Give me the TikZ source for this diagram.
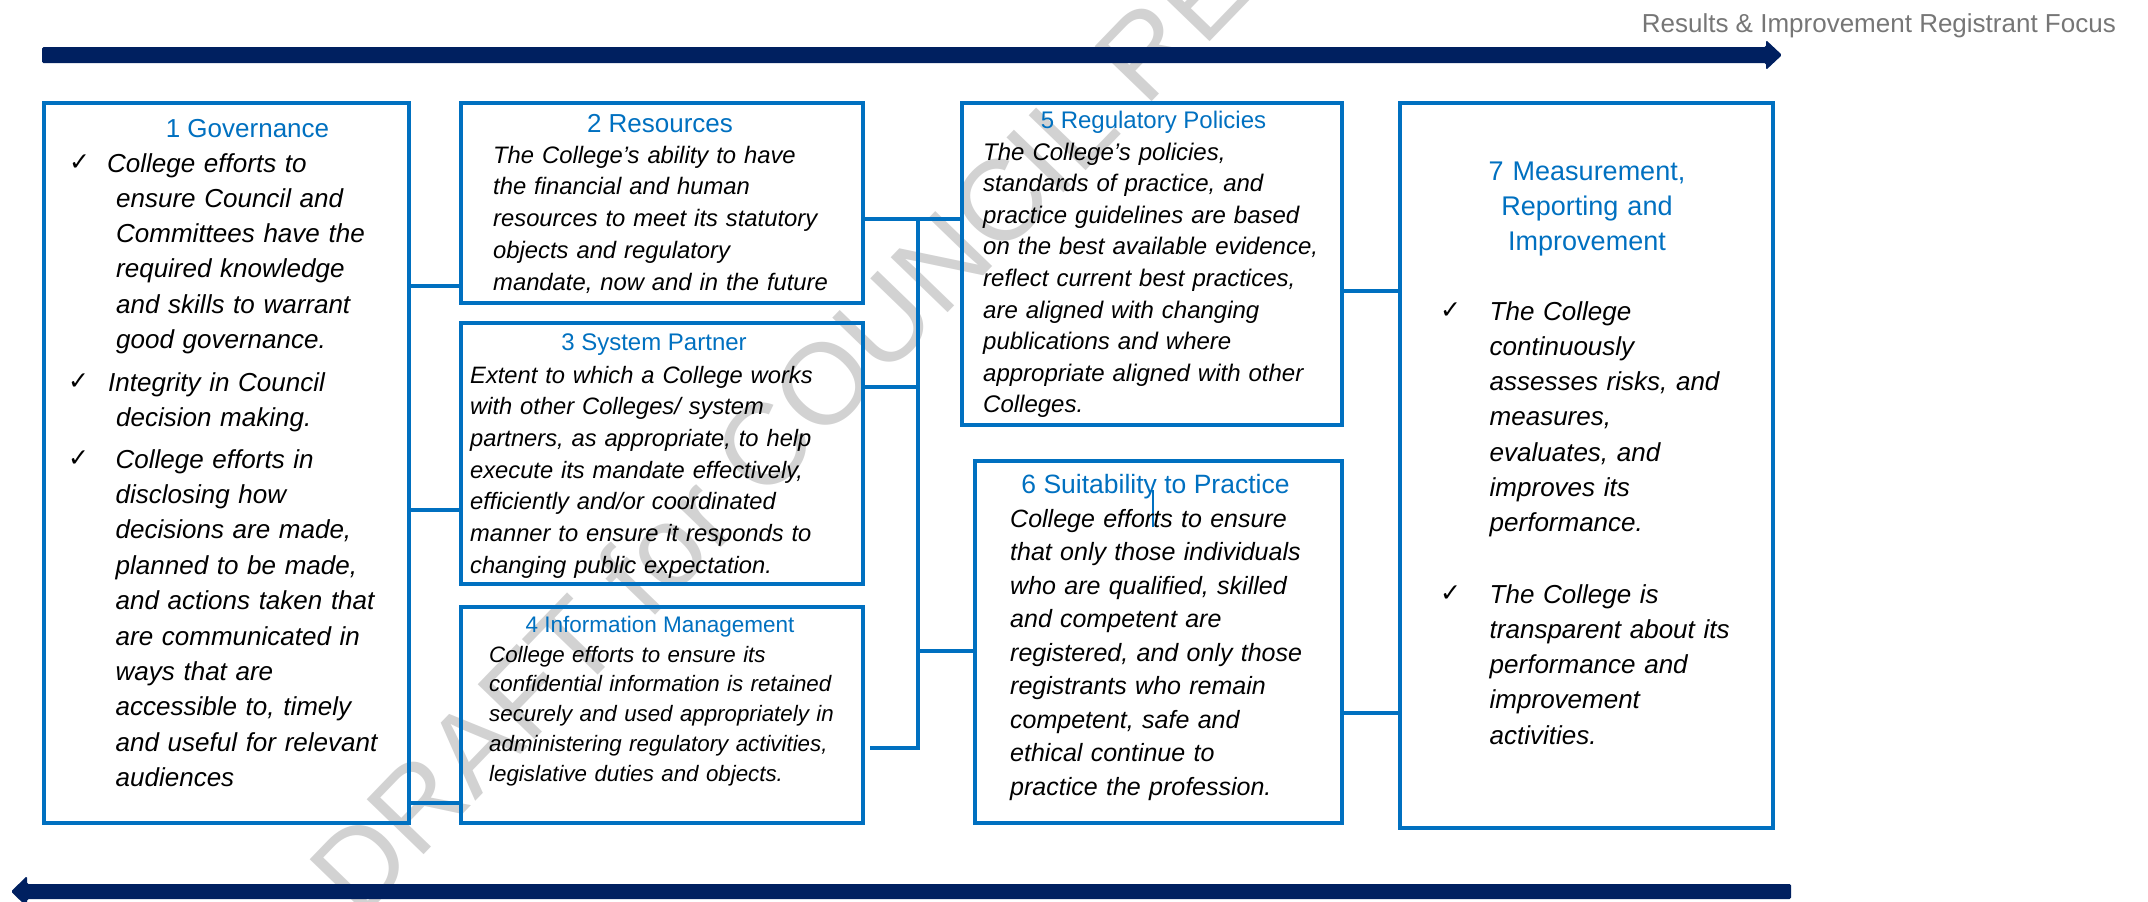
\documentclass[tikz,border=0pt]{standalone}
\usepackage{fontspec}
\setmainfont{Liberation Sans}
\newfontfamily\symfont{DejaVu Sans}
\definecolor{cblue}{HTML}{0070C0}
\definecolor{navy}{HTML}{002060}
\definecolor{wmgray}{RGB}{210,210,210}
\definecolor{labgray}{HTML}{767676}

\tikzset{
  box/.style={draw=cblue, line width=4pt, inner sep=0pt},
  conn/.style={draw=cblue, line width=4pt},
  ttl/.style={text=cblue, inner sep=0pt, anchor=base},
  body/.style={inner sep=0pt, anchor=base west, align=left},
  chk/.style={inner sep=0pt, anchor=base west, font=\symfont\fontsize{25}{25}\selectfont},
  bar/.style={fill=navy, rounded corners=1.5pt},
}

\begin{document}
\begin{tikzpicture}[x=1pt, y=-1pt]
\useasboundingbox (0,0) rectangle (2148,902);

% watermark
\node[rotate=46, text=wmgray, inner sep=0pt,
      font=\fontsize{115}{115}\selectfont] (wm) at (881,323) {DRAFT for COUNCIL REVIEW};

% header label
\node[anchor=base east, inner sep=0pt, text=labgray,
      font=\fontsize{26}{30}\selectfont] (lab) at (2116,32.5)
  {Results \& Improvement Registrant Focus};

% direction bars
\fill[bar] (42,47) -- (1766,47) -- (1766,40) -- (1782,55) -- (1766,70)
           -- (1766,63) -- (42,63) -- cycle;
\fill[bar] (1791,884) -- (27,884) -- (27,876) -- (11,891.5) -- (27,907)
           -- (27,899) -- (1791,899) -- cycle;

% frames
\node[box, minimum width=365pt, minimum height=720pt] (b1) at (226.5,463) {};
\node[box, minimum width=402pt, minimum height=200pt] (b2) at (662,203) {};
\node[box, minimum width=402pt, minimum height=261pt] (b3) at (662,453.5) {};
\node[box, minimum width=402pt, minimum height=216pt] (b4) at (662,715) {};
\node[box, minimum width=380pt, minimum height=322pt] (b5) at (1152,264) {};
\node[box, minimum width=367pt, minimum height=362pt] (b6) at (1158.5,642) {};
\node[box, minimum width=373pt, minimum height=725pt] (b7) at (1586.5,465.5) {};

% junction points of the collecting line
\coordinate (jt) at (918,219);
\coordinate (jb) at (918,748);

% connectors
\draw[conn] (b1.east |- 0,286) -- (b2.west |- 0,286);
\draw[conn] (b1.east |- 0,510) -- (b3.west |- 0,510);
\draw[conn] (b1.east |- 0,803) -- (b4.west |- 0,803);
\draw[conn] (b2.east |- jt) -- (jt);
\draw[conn] ([xshift=5pt]b4.east |- jb) -- (jb) -- (jt) -- (b5.west |- jt);
\draw[conn] (b3.east |- 0,387) -- (jt |- 0,387);
\draw[conn] (jt |- 0,651) -- (b6.west |- 0,651);
\draw[conn] (b5.east |- 0,291) -- (b7.west |- 0,291);
\draw[conn] (b6.east |- 0,713) -- (b7.west |- 0,713);

% 1 Governance
\node[ttl, font=\fontsize{26}{30}\selectfont] (t1) at (247.5,137) {1 Governance};
\node[chk] (c11) at (69,170) {✓};
\node[body, text width=285pt, font=\fontsize{26}{35.3}\selectfont\itshape] (p11) at (116,172)
  {\hspace*{-9pt}College efforts to\\ ensure Council and\\ Committees have the\\
   required knowledge\\ and skills to warrant\\ good governance.};
\node[chk] (c12) at (68,389) {✓};
\node[body, text width=285pt, font=\fontsize{26}{35.3}\selectfont\itshape] (p12) at (116,391)
  {\hspace*{-8pt}Integrity in Council\\ decision making.};
\node[chk] (c13) at (68,466) {✓};
\node[body, text width=285pt, font=\fontsize{26}{35.4}\selectfont\itshape] (p13) at (115.5,468)
  {College efforts in\\ disclosing how\\ decisions are made,\\ planned to be made,\\
   and actions taken that\\ are communicated in\\ ways that are\\
   accessible to, timely\\ and useful for relevant\\ audiences};

% 2 Resources
\node[ttl, font=\fontsize{26}{30}\selectfont] (t2) at (660,132) {2 Resources};
\node[body, text width=360pt, font=\fontsize{23.8}{31.75}\selectfont\itshape] (p2) at (493,163)
  {The College’s ability to have\\ the financial and human\\
   resources to meet its statutory\\ objects and regulatory\\
   mandate, now and in the future};

% 3 System Partner
\node[ttl, font=\fontsize{24}{30}\selectfont] (t3) at (654,350) {3 System Partner};
\node[body, text width=385pt, font=\fontsize{23.7}{31.7}\selectfont\itshape] (p3) at (470,383)
  {Extent to which a College works\\ with other Colleges/ system\\
   partners, as appropriate, to help\\ execute its mandate effectively,\\
   efficiently and/or coordinated\\ manner to ensure it responds to\\
   changing public expectation.};

% 4 Information Management
\node[ttl, font=\fontsize{22.5}{28}\selectfont] (t4) at (660,632) {4 Information Management};
\node[body, text width=366pt, font=\fontsize{22.3}{29.75}\selectfont\itshape] (p4) at (489,662)
  {College efforts to ensure its\\ confidential information is retained\\
   securely and used appropriately in\\ administering regulatory activities,\\
   legislative duties and objects.};

% 5 Regulatory Policies
\node[ttl, font=\fontsize{24}{30}\selectfont] (t5) at (1153.5,128) {5 Regulatory Policies};
\node[body, text width=352pt, font=\fontsize{24}{31.6}\selectfont\itshape] (p5) at (983,160)
  {The College’s policies,\\ standards of practice, and\\
   practice guidelines are based\\ on the best available evidence,\\
   reflect current best practices,\\ are aligned with changing\\
   publications and where\\ appropriate aligned with other\\ Colleges.};

% 6 Suitability to Practice
\node[ttl, font=\fontsize{26.5}{30}\selectfont] (t6) at (1155.5,493) {6 Suitability to Practice};
\draw[cblue, line width=2pt] (1153,490) -- (1153,527);
\node[body, text width=325pt, font=\fontsize{25}{33.5}\selectfont\itshape] (p6) at (1010,527)
  {College efforts to ensure\\ that only those individuals\\
   who are qualified, skilled\\ and competent are\\
   registered, and only those\\ registrants who remain\\
   competent, safe and\\ ethical continue to\\ practice the profession.};

% 7 Measurement, Reporting and Improvement
\node[ttl, align=center, text width=300pt, font=\fontsize{27}{35}\selectfont] (t7) at (1587,180)
  {7 Measurement,\\ Reporting and\\ Improvement};
\node[chk] (c71) at (1440,318) {✓};
\node[body, text width=277pt, font=\fontsize{26}{35.3}\selectfont\itshape] (p71) at (1489.5,320)
  {The College\\ continuously\\ assesses risks, and\\ measures,\\
   evaluates, and\\ improves its\\ performance.};
\node[chk] (c72) at (1440,601) {✓};
\node[body, text width=277pt, font=\fontsize{26}{35.3}\selectfont\itshape] (p72) at (1489.5,603)
  {The College is\\ transparent about its\\ performance and\\ improvement\\ activities.};

\end{tikzpicture}
\end{document}
